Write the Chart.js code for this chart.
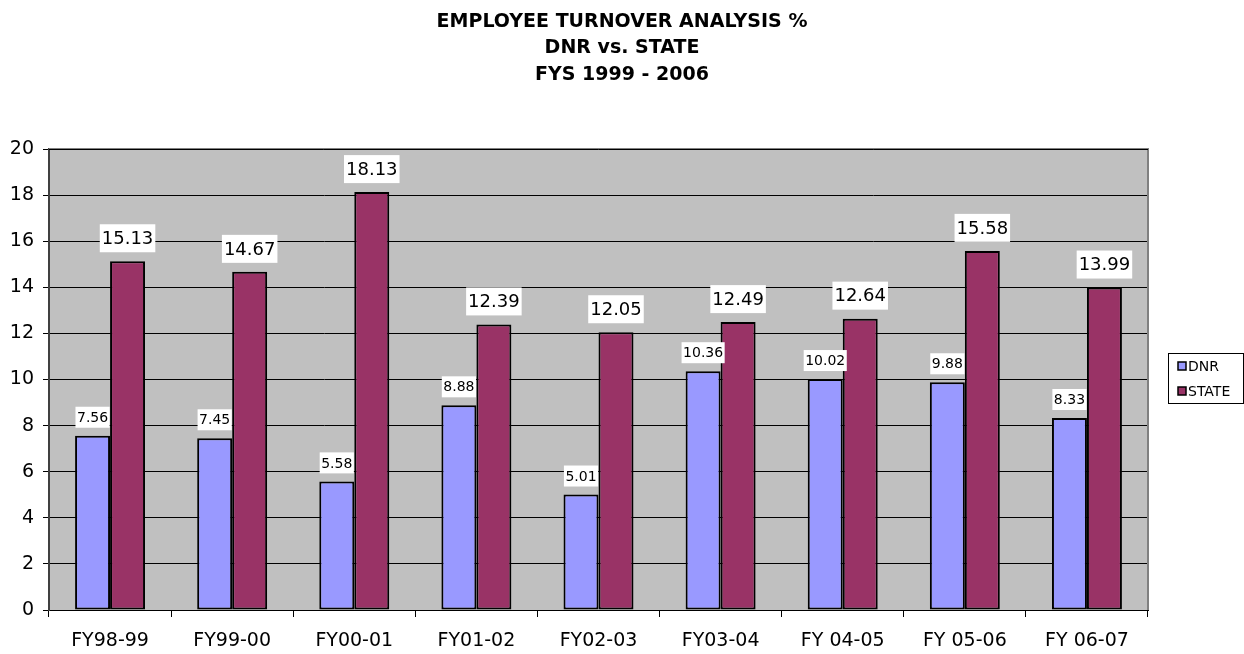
<!DOCTYPE html>
<html>
<head>
<meta charset="utf-8">
<script src="https://cdn.jsdelivr.net/npm/chart.js@4/dist/chart.umd.min.js"></script>
<style>
  html, body { margin: 0; padding: 0; background: #fff; }
  #wrap { width: 1244px; height: 654px; }
</style>
</head>
<body>
<div id="wrap"><canvas id="c" width="1244" height="654"></canvas></div>
<script>
const titleLines = ['EMPLOYEE TURNOVER ANALYSIS %', 'DNR vs. STATE', 'FYS 1999 - 2006'];
const categories = ['FY98-99', 'FY99-00', 'FY00-01', 'FY01-02', 'FY02-03', 'FY03-04', 'FY 04-05', 'FY 05-06', 'FY 06-07'];
const dnrValues = [7.56, 7.45, 5.58, 8.88, 5.01, 10.36, 10.02, 9.88, 8.33];
const stateValues = [15.13, 14.67, 18.13, 12.39, 12.05, 12.49, 12.64, 15.58, 13.99];
const seriesNames = ['DNR', 'STATE'];
const yTicks = [0, 2, 4, 6, 8, 10, 12, 14, 16, 18, 20];

const FONT = "'DejaVu Sans', Verdana, sans-serif";
const labelStyles = [
  { size: 14, boxH: 21, gap: 8, padX: 1.5 },
  { size: 18, boxH: 28, gap: 9, padX: 2 }
];

const titleDraw = {
  id: 'titleDraw',
  afterDraw(chart) {
    const { ctx } = chart;
    ctx.save();
    ctx.font = 'bold 19px ' + FONT;
    ctx.fillStyle = '#000';
    ctx.textAlign = 'center';
    ctx.textBaseline = 'middle';
    const rows = [22, 48.5, 75];
    titleLines.forEach((t, i) => ctx.fillText(t, 622, rows[i]));
    ctx.restore();
  }
};

const plotBg = {
  id: 'plotBg',
  beforeDraw(chart) {
    const { ctx, chartArea: a } = chart;
    ctx.save();
    ctx.fillStyle = '#C0C0C0';
    ctx.fillRect(a.left, a.top, a.right - a.left, a.bottom - a.top);
    ctx.restore();
  },
  beforeDatasetsDraw(chart) {
    const { ctx, chartArea: a } = chart;
    ctx.save();
    ctx.strokeStyle = '#808080';
    ctx.lineWidth = 2;
    ctx.beginPath();
    ctx.moveTo(a.left, a.top);
    ctx.lineTo(a.right, a.top);
    ctx.lineTo(a.right, a.bottom);
    ctx.stroke();
    ctx.strokeStyle = '#000';
    ctx.lineWidth = 1;
    ctx.beginPath();
    ctx.moveTo(a.left, a.top + 0.5);
    ctx.lineTo(a.right, a.top + 0.5);
    ctx.stroke();
    ctx.restore();
  }
};

const valueLabels = {
  id: 'valueLabels',
  afterDatasetsDraw(chart) {
    const { ctx } = chart;
    chart.data.datasets.forEach((ds, di) => {
      const st = labelStyles[di];
      const meta = chart.getDatasetMeta(di);
      ctx.save();
      ctx.font = st.size + 'px ' + FONT;
      ctx.textAlign = 'center';
      ctx.textBaseline = 'middle';
      meta.data.forEach((el, i) => {
        const txt = ds.data[i].toFixed(2);
        const w = ctx.measureText(txt).width + st.padX * 2;
        const bottom = el.y - st.gap;
        const top = bottom - st.boxH;
        ctx.fillStyle = '#fff';
        ctx.fillRect(el.x - w / 2, top, w, st.boxH);
        ctx.fillStyle = '#000';
        ctx.fillText(txt, el.x, top + st.boxH / 2 + 1);
      });
      ctx.restore();
    });
  }
};

const boxLegend = {
  id: 'boxLegend',
  afterDraw(chart) {
    const { ctx } = chart;
    const x = 1168, y = 353, w = 76, h = 51;
    ctx.save();
    ctx.fillStyle = '#fff';
    ctx.fillRect(x, y, w, h);
    ctx.strokeStyle = '#000';
    ctx.lineWidth = 1;
    ctx.strokeRect(x + 0.5, y + 0.5, w - 1, h - 1);
    ctx.font = '14px ' + FONT;
    ctx.textBaseline = 'middle';
    ctx.textAlign = 'left';
    const rows = [366, 391];
    chart.data.datasets.forEach((ds, i) => {
      const cy = rows[i];
      ctx.fillStyle = ds.backgroundColor;
      ctx.fillRect(x + 10, cy - 4, 8, 8);
      ctx.strokeStyle = '#000';
      ctx.lineWidth = 1.5;
      ctx.strokeRect(x + 10, cy - 4, 8, 8);
      ctx.fillStyle = '#000';
      ctx.fillText(ds.label, x + 20, cy + 1);
    });
    ctx.restore();
  }
};

new Chart(document.getElementById('c'), {
  type: 'bar',
  data: {
    labels: categories,
    datasets: [
      { label: seriesNames[0], data: dnrValues, backgroundColor: '#9999FF', borderColor: '#000', borderWidth: 2, borderSkipped: false },
      { label: seriesNames[1], data: stateValues, backgroundColor: '#993366', borderColor: '#000', borderWidth: 2, borderSkipped: false }
    ]
  },
  plugins: [plotBg, valueLabels, boxLegend, titleDraw],
  options: {
    responsive: false,
    animation: false,
    events: [],
    layout: { padding: { left: 0, right: 96, top: 149, bottom: 0 } },
    datasets: { bar: { categoryPercentage: 0.573, barPercentage: 1.0 } },
    plugins: {
      legend: { display: false },
      tooltip: { enabled: false },
      title: { display: false }
    },
    scales: {
      x: {
        grid: { display: true, drawOnChartArea: false, drawTicks: true, tickLength: 7, color: '#000', offset: true },
        border: { display: true, color: '#000', width: 1 },
        ticks: { color: '#000', font: { family: FONT, size: 19 }, padding: 13, maxRotation: 0 },
        afterFit(s) { s.height = 44; }
      },
      y: {
        min: 0, max: 20,
        afterBuildTicks(s) { s.ticks = yTicks.map(v => ({ value: v })); },
        grid: { color: '#000', lineWidth: 1, tickLength: 6, drawTicks: true },
        border: { display: true, color: '#404040', width: 2 },
        ticks: { color: '#000', font: { family: FONT, size: 19 }, padding: 9 },
        afterFit(s) { s.width = 49; }
      }
    }
  }
});
</script>
</body>
</html>
